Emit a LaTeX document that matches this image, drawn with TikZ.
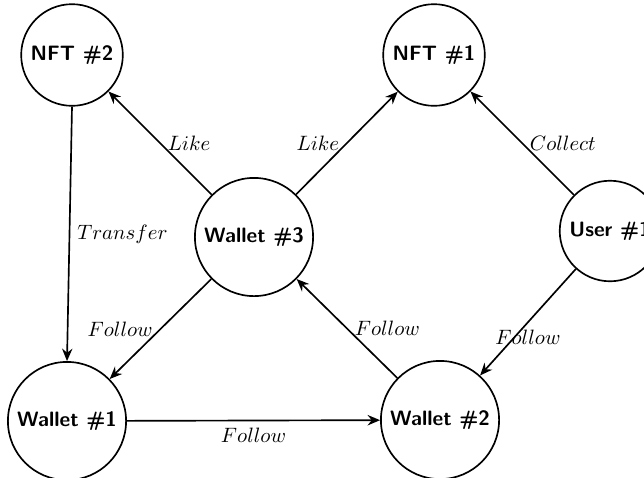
\documentclass[tikz,border=0pt]{standalone}
\usetikzlibrary{arrows.meta}
\begin{document}
\begin{tikzpicture}[x=0.4808pt, y=-0.4808pt,
    state/.style={circle, draw, thick, font=\sffamily\bfseries},
    link/.style={thick, -{Stealth[length=6pt, width=5pt, inset=2pt]}}]
  \clip (0,0) rectangle (644,477);
  % accounts and tokens
  \node[state] (nft2) at (72,55)  {NFT \#2};
  \node[state] (nft1) at (434,55) {NFT \#1};
  \node[state] (w3)   at (254,237) {Wallet \#3};
  \node[state] (u1)   at (610,231) {User \#1};
  \node[state] (w1)   at (67,421)  {Wallet \#1};
  \node[state] (w2)   at (440,420) {Wallet \#2};
  % relations
  \draw[link] (w3) -- node[right] {$Like$} (nft2);
  \draw[link] (w3) -- node[left] {$Like$} (nft1);
  \draw[link] (u1) -- node[right] {$Collect$} (nft1);
  \draw[link] (u1) -- node[below] {$Follow$} (w2);
  \draw[link] (w2) -- node[right] {$Follow$} (w3);
  \draw[link] (w3) -- node[left] {$Follow$} (w1);
  \draw[link] (nft2.south) -- node[right] {$Transfer$} (w1.north);
  \draw[link] (w1) -- node[below] {$Follow$} (w2);
\end{tikzpicture}
\end{document}
